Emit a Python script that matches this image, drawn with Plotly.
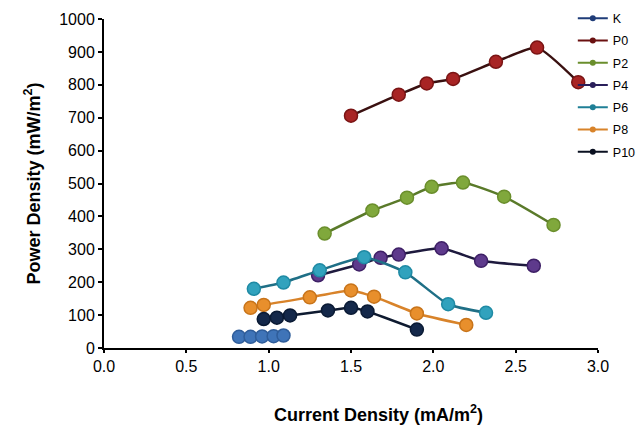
import plotly.graph_objects as go

series_names = ["K", "P0", "P2", "P4", "P6", "P8", "P10"]

k_x = [0.82, 0.89, 0.96, 1.03, 1.09]
k_y = [34, 34, 35, 36, 38]

p0_x = [1.50, 1.79, 1.96, 2.12, 2.38, 2.63, 2.88]
p0_y = [706, 770, 804, 818, 870, 913, 808]

p2_x = [1.34, 1.63, 1.84, 1.99, 2.18, 2.43, 2.73]
p2_y = [348, 418, 457, 490, 503, 460, 374]

p4_x = [1.30, 1.55, 1.68, 1.79, 2.05, 2.29, 2.61]
p4_y = [221, 254, 274, 284, 303, 265, 250]

p6_x = [0.91, 1.09, 1.31, 1.58, 1.83, 2.09, 2.32]
p6_y = [180, 199, 236, 276, 230, 133, 107]

p8_x = [0.89, 0.97, 1.25, 1.50, 1.64, 1.90, 2.20]
p8_y = [122, 131, 154, 175, 156, 105, 70]

p10_x = [0.97, 1.05, 1.13, 1.36, 1.50, 1.60, 1.90]
p10_y = [88, 92, 99, 114, 122, 111, 56]

x_ticks = [0.0, 0.5, 1.0, 1.5, 2.0, 2.5, 3.0]
y_ticks = [0, 100, 200, 300, 400, 500, 600, 700, 800, 900, 1000]

x_title = "<b>Current Density (mA/m<sup>2</sup>)</b>"
y_title = "<b>Power Density (mW/m<sup>2</sup>)</b>"

data = [
    (k_x, k_y, "#3f74b8", "#2f5d9a", "#2f5d9a", "#1f3c78"),
    (p0_x, p0_y, "#a82424", "#7a1414", "#3a1010", "#6a1010"),
    (p2_x, p2_y, "#80a83c", "#6a8e2c", "#5a7a2a", "#6a8e2c"),
    (p4_x, p4_y, "#5e3a8c", "#3e2066", "#1e1a3e", "#2a1f5a"),
    (p6_x, p6_y, "#31a2bd", "#1f8aa4", "#1f6f86", "#1f7f96"),
    (p8_x, p8_y, "#e88f2c", "#c8741a", "#d8832a", "#d8832a"),
    (p10_x, p10_y, "#14284a", "#0a1a34", "#0e1a30", "#0a1020"),
]

fig = go.Figure()
for name, (xs, ys, mcol, mline, lcol, legcol) in zip(series_names, data):
    fig.add_trace(go.Scatter(
        x=xs, y=ys, mode="lines+markers", name=name, showlegend=False,
        line=dict(color=lcol, width=2.5, shape="spline", smoothing=0.5),
        marker=dict(size=13, color=mcol, line=dict(color=mline, width=1.5)),
    ))
for name, (xs, ys, mcol, mline, lcol, legcol) in zip(series_names, data):
    fig.add_trace(go.Scatter(
        x=[None], y=[None], mode="lines+markers", name=name, legendgroup=name,
        line=dict(color=legcol, width=2),
        marker=dict(size=6, color=legcol),
    ))

# page body has an 8px margin, so the figure is 8px smaller than the window
fig.update_layout(
    width=636, height=419,
    margin=dict(l=96, r=46, t=11, b=79, autoexpand=False),
    paper_bgcolor="white", plot_bgcolor="white",
    font=dict(family="Liberation Sans, Arial, sans-serif", color="black", size=14),
    legend=dict(x=0.949, y=1.047, xanchor="left", yanchor="top",
                font=dict(size=12.5), itemwidth=30, tracegroupgap=3,
                bgcolor="rgba(0,0,0,0)"),
    xaxis=dict(
        range=[0, 3.0], tickvals=x_ticks, ticktext=["%.1f" % v for v in x_ticks],
        showgrid=False, zeroline=False, showline=True, linecolor="black", linewidth=2,
        ticks="outside", ticklen=3, tickwidth=2, tickcolor="black", tickfont=dict(size=16),
    ),
    yaxis=dict(
        range=[0, 1000], tickvals=y_ticks,
        showgrid=False, zeroline=False, showline=True, linecolor="black", linewidth=2,
        ticks="outside", ticklen=4, tickwidth=2, tickcolor="black", tickfont=dict(size=16),
        title=dict(text=y_title, font=dict(size=18), standoff=14),
    ),
    annotations=[dict(
        text=x_title, xref="paper", yref="paper", x=0.555, y=-0.198,
        xanchor="center", yanchor="middle", showarrow=False, font=dict(size=18),
    )],
)

fig.write_html("out.html")
